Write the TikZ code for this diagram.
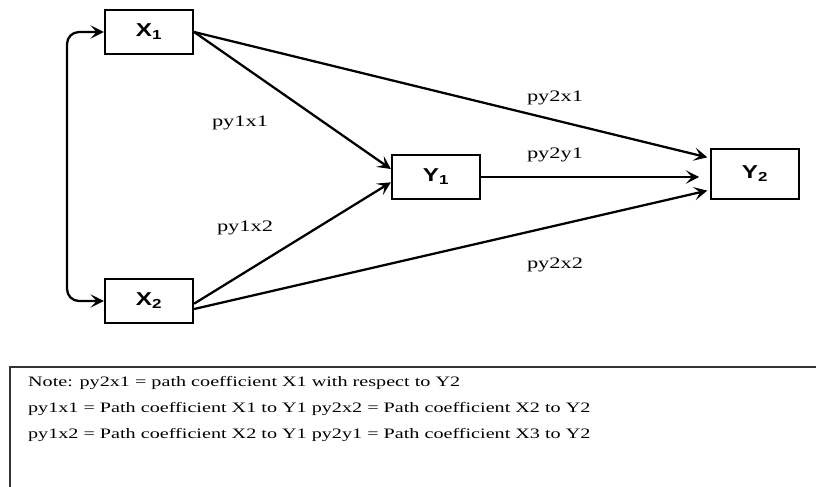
\documentclass[tikz,border=0pt]{standalone}
\usepackage{fontspec}
\setmainfont{Liberation Serif}[FakeStretch=1.4]
\setsansfont{Liberation Sans}[FakeStretch=1.3]
\usetikzlibrary{arrows.meta}

\begin{document}
\begin{tikzpicture}[x=0.75pt, y=-0.75pt, line width=1.7pt,
    >={Stealth[length=10pt, width=10pt, inset=4.5pt]}]
  \tikzset{var/.style={draw, minimum width=66pt, minimum height=33pt, inner sep=0pt,
      font=\sffamily\bfseries\fontsize{14}{16}\selectfont}}
  \tikzset{coef/.style={inner sep=0pt, font=\fontsize{12}{14}\selectfont}}
  \tikzset{noteline/.style={anchor=west, inner sep=0pt, font=\fontsize{10.8}{12}\selectfont}}
  \useasboundingbox (0,0) rectangle (816,486);
  % variables
  \node[var] (x1) at (149,32) {X\textsubscript{1}};
  \node[var] (x2) at (149,301) {X\textsubscript{2}};
  \node[var] (y1) at (436,177) {Y\textsubscript{1}};
  \node[var, minimum height=38pt] (y2) at (755,174) {\raisebox{2pt}{Y\textsubscript{2}}};
  \coordinate (bend) at (67,160);
  % paths
  \draw[<->, rounded corners=9pt] (x1.west) -| (bend) |- (x2.west);
  \draw[->] (x1.east) -- ([yshift=6pt]y1.west);
  \draw[->] ([yshift=-2pt]x2.east) -- ([yshift=-4pt]y1.west);
  \draw[->, shorten >=2pt] (x1.east) -- ([yshift=12pt]y2.west);
  \draw[->, shorten >=8pt] (y1.east) -- (y1.east -| y2.west);
  \draw[->, shorten >=2pt] ([yshift=-6pt]x2.east) -- ([yshift=-12pt]y2.west);
  % coefficients
  \node[coef] (p11) at (240,123) {py1x1};
  \node[coef] (p12) at (245,228) {py1x2};
  \node[coef] (p21) at (555,98) {py2x1};
  \node[coef] (p2y) at (555,155) {py2y1};
  \node[coef] (p22) at (555,265) {py2x2};
  % note
  \draw[line width=0.9pt, draw=black!80] (830,367) -- (10,367) -- (10,500);
  \node[noteline] (n1) at (27,383) {Note: py2x1 = path coefficient X1 with respect to Y2};
  \node[noteline] (n2) at (27,409) {py1x1 = Path coefficient X1 to Y1 py2x2 = Path coefficient X2 to Y2};
  \node[noteline] (n3) at (27,435) {py1x2 = Path coefficient X2 to Y1 py2y1 = Path coefficient X3 to Y2};
\end{tikzpicture}
\end{document}
